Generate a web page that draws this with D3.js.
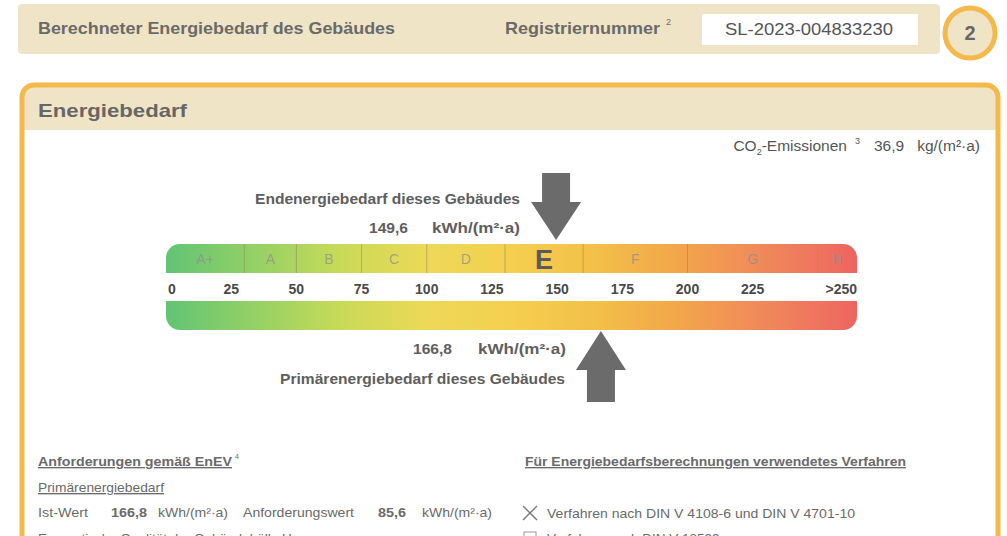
<!DOCTYPE html>
<html>
<head>
<meta charset="utf-8">
<script src="https://cdn.jsdelivr.net/npm/d3@7"></script>
<style>
  body { margin: 0; background: #fff; }
  svg { display: block; font-family: "Liberation Sans", Arial, sans-serif; }
</style>
</head>
<body>
<svg width="1007" height="536"></svg>
<script>
// energy classes and their upper bounds in kWh/(m²·a)
let classes = ['A+', 'A', 'B', 'C', 'D', 'E', 'F', 'G', 'H'];
let classBounds = [0, 30, 50, 75, 100, 130, 160, 200, 250, 265];
let tickValues = [0, 25, 50, 75, 100, 125, 150, 175, 200, 225];
let lastTickLabel = '>250';
let endEnergy = 149.6;       // Endenergiebedarf
let primaryEnergy = 166.8;   // Primärenergiebedarf
let co2Emission = 36.9;
let requirementValue = 85.6;
let registerNumber = 'SL-2023-004833230';
let currentClass = 'E';
// bar gradient colours, left to right
let barColors = ['#62c474', '#93d066', '#c7da58', '#ecd957', '#f5cf4f', '#f3bf48', '#f2a44b', '#f0865c', '#ee6460'];

let de = d3.formatLocale({decimal: ',', thousands: '.', grouping: [3], currency: ['', ' €']});
let fmt = de.format('.1f');

let svg = d3.select('svg');
let defs = svg.append('defs');

let grad = defs.append('linearGradient').attr('id', 'barGrad');
grad.selectAll('stop')
    .data(barColors)
    .join('stop')
    .attr('offset', (d, i) => i / (barColors.length - 1))
    .attr('stop-color', d => d);

let beige = '#efe5c6';
let orange = '#f4b94a';
let grey = '#5e5e5e';

// helper: text squeezed/stretched to the width seen in the scan
function label(parent, xx, yy, txt, size, width, bold) {
    let t = parent.append('text').attr('x', xx).attr('y', yy).attr('font-size', size).text(txt);
    if (bold) t.attr('font-weight', 'bold');
    if (width) t.attr('textLength', width).attr('lengthAdjust', 'spacingAndGlyphs');
    return t;
}

// ---- header strip
svg.append('rect').attr('x', 18).attr('y', 4).attr('width', 922).attr('height', 50)
    .attr('rx', 4).attr('fill', beige);
label(svg, 38, 34, 'Berechneter Energiebedarf des Gebäudes', 17, 357, true).attr('fill', '#6a6a6a');
label(svg, 505, 34, 'Registriernummer', 17, 155, true).attr('fill', '#6a6a6a');
svg.append('text').attr('x', 666).attr('y', 25).attr('font-size', 9).attr('fill', '#6a6a6a').text('2');
svg.append('rect').attr('x', 702).attr('y', 14).attr('width', 216).attr('height', 31).attr('fill', '#fff');
label(svg, 725, 35, registerNumber, 17, 168, false).attr('fill', '#555');
svg.append('circle').attr('cx', 970).attr('cy', 33).attr('r', 25).attr('fill', beige)
    .attr('stroke', orange).attr('stroke-width', 5);
svg.append('text').attr('x', 970).attr('y', 40).attr('text-anchor', 'middle').attr('font-size', 20)
    .attr('font-weight', 'bold').attr('fill', '#666').text('2');

// ---- main panel
defs.append('clipPath').attr('id', 'panelClip')
    .append('rect').attr('x', 22).attr('y', 85).attr('width', 976).attr('height', 520).attr('rx', 12);
svg.append('rect').attr('x', 22).attr('y', 85).attr('width', 976).attr('height', 45)
    .attr('fill', beige).attr('clip-path', 'url(#panelClip)');
svg.append('rect').attr('x', 22).attr('y', 85).attr('width', 976).attr('height', 520).attr('rx', 12)
    .attr('fill', 'none').attr('stroke', orange).attr('stroke-width', 5);
label(svg, 38, 117, 'Energiebedarf', 19, 149, true).attr('fill', '#666');

let co2 = svg.append('text').attr('x', 980).attr('y', 151).attr('text-anchor', 'end')
    .attr('font-size', 15.5).attr('fill', '#555');
co2.append('tspan').text('CO');
co2.append('tspan').attr('dy', 4).attr('font-size', 9).text('2');
co2.append('tspan').attr('dy', -4).text('-Emissionen');
co2.append('tspan').attr('dx', 8).attr('dy', -7).attr('font-size', 9).text('3');
co2.append('tspan').attr('dx', 14).attr('dy', 7).text(fmt(co2Emission));
co2.append('tspan').attr('dx', 13).text('kg/(m²·a)');

// ---- scale bars
let x = d3.scaleLinear().domain([0, classBounds[classBounds.length - 1]]).range([166, 857]);
let barH = 29, topY = 244, botY = 301, r = 14;

function roundedBar(y, top) {
    let x0 = x.range()[0], x1 = x.range()[1];
    let p = d3.path();
    if (top) {
        p.moveTo(x0, y + barH);
        p.lineTo(x0, y + r);
        p.arcTo(x0, y, x0 + r, y, r);
        p.lineTo(x1 - r, y);
        p.arcTo(x1, y, x1, y + r, r);
        p.lineTo(x1, y + barH);
    } else {
        p.moveTo(x0, y);
        p.lineTo(x0, y + barH - r);
        p.arcTo(x0, y + barH, x0 + r, y + barH, r);
        p.lineTo(x1 - r, y + barH);
        p.arcTo(x1, y + barH, x1, y + barH - r, r);
        p.lineTo(x1, y);
    }
    p.closePath();
    return p.toString();
}

svg.append('path').attr('d', roundedBar(topY, true)).attr('fill', 'url(#barGrad)');
svg.append('path').attr('d', roundedBar(botY, false)).attr('fill', 'url(#barGrad)');

// class dividers
svg.append('g').selectAll('line')
    .data(classBounds.slice(1, -1))
    .join('line')
    .attr('x1', d => x(d)).attr('x2', d => x(d))
    .attr('y1', topY).attr('y2', topY + barH)
    .attr('stroke', '#8a7a50').attr('stroke-opacity', d => d === 250 ? 0.1 : 0.45).attr('stroke-width', 1);

// class letters
let classData = classes.map((c, i) => ({name: c, mid: (classBounds[i] + classBounds[i + 1]) / 2}));
svg.append('g').selectAll('text')
    .data(classData)
    .join('text')
    .attr('x', d => x(d.mid))
    .attr('y', d => d.name === currentClass ? topY + 25 : topY + 20)
    .attr('text-anchor', 'middle')
    .attr('font-size', d => d.name === currentClass ? 27 : 14)
    .attr('font-weight', d => d.name === currentClass ? 'bold' : 'normal')
    .attr('fill', d => d.name === currentClass ? '#5a5a5a' : '#8f8f8f')
    .attr('fill-opacity', d => d.name === currentClass ? 1 : 0.75)
    .text(d => d.name);

// tick labels
let ticks = svg.append('g').attr('font-size', 14).attr('font-weight', 'bold').attr('fill', '#4a4a4a');
ticks.selectAll('text')
    .data(tickValues)
    .join('text')
    .attr('x', d => d === 0 ? x(d) + 6 : x(d))
    .attr('y', 294)
    .attr('text-anchor', 'middle')
    .text(d => d);
ticks.append('text').attr('x', x.range()[1]).attr('y', 294).attr('text-anchor', 'end').text(lastTickLabel);

// arrows
function downArrow(v) {
    let cx = x(v);
    return [[cx - 14, 173], [cx + 14, 173], [cx + 14, 202], [cx + 25, 202], [cx, 240],
            [cx - 25, 202], [cx - 14, 202]];
}
function upArrow(v) {
    let cx = x(v);
    return [[cx, 331], [cx + 25, 370], [cx + 14, 370], [cx + 14, 402], [cx - 14, 402],
            [cx - 14, 370], [cx - 25, 370]];
}
svg.append('polygon').attr('points', downArrow(endEnergy).join(' ')).attr('fill', '#6b6b6b');
svg.append('polygon').attr('points', upArrow(primaryEnergy).join(' ')).attr('fill', '#6b6b6b');

// labels around arrows
let arrowLbl = svg.append('g').attr('fill', grey);
label(arrowLbl, 255, 204, 'Endenergiebedarf dieses Gebäudes', 15, 265, true);
label(arrowLbl, 369, 233, fmt(endEnergy), 15, 39, true);
label(arrowLbl, 432, 233, 'kWh/(m²·a)', 15, 88, true);
label(arrowLbl, 413, 354, fmt(primaryEnergy), 15, 39, true);
label(arrowLbl, 478, 354, 'kWh/(m²·a)', 15, 88, true);
label(arrowLbl, 280, 384, 'Primärenergiebedarf dieses Gebäudes', 15, 285, true);

// ---- lower text block
let small = svg.append('g').attr('fill', '#6a6a6a');
label(small, 38, 466, 'Anforderungen gemäß EnEV', 13.5, 194, true).attr('text-decoration', 'underline');
small.append('text').attr('x', 235).attr('y', 459).attr('font-size', 7).text('4');
label(small, 38, 492, 'Primärenergiebedarf', 13.5, 126, false).attr('text-decoration', 'underline');
label(small, 38, 517, 'Ist-Wert', 13.5, 50, false);
label(small, 111, 517, fmt(primaryEnergy), 13.5, 36, true);
label(small, 158, 517, 'kWh/(m²·a)', 13.5, 70, false);
label(small, 243, 517, 'Anforderungswert', 13.5, 111, false);
label(small, 378, 517, fmt(requirementValue), 13.5, 28, true);
label(small, 422, 517, 'kWh/(m²·a)', 13.5, 70, false);
// these two lines run past the bottom edge in the scan too
label(small, 38, 543, 'Energetische Qualität der Gebäudehülle H', 13.5, 0, false);

label(small, 525, 466, 'Für Energiebedarfsberechnungen verwendetes Verfahren', 13.5, 381, true)
    .attr('text-decoration', 'underline');
small.append('path').attr('d', 'M523,506 L537,520 M537,506 L523,520').attr('stroke', '#777').attr('stroke-width', 1.4);
label(small, 547, 518, 'Verfahren nach DIN V 4108-6 und DIN V 4701-10', 13.5, 308, false);
small.append('rect').attr('x', 524).attr('y', 532).attr('width', 12).attr('height', 12)
    .attr('fill', 'none').attr('stroke', '#999');
label(small, 547, 543, 'Verfahren nach DIN V 18599', 13.5, 0, false);
</script>
</body>
</html>
